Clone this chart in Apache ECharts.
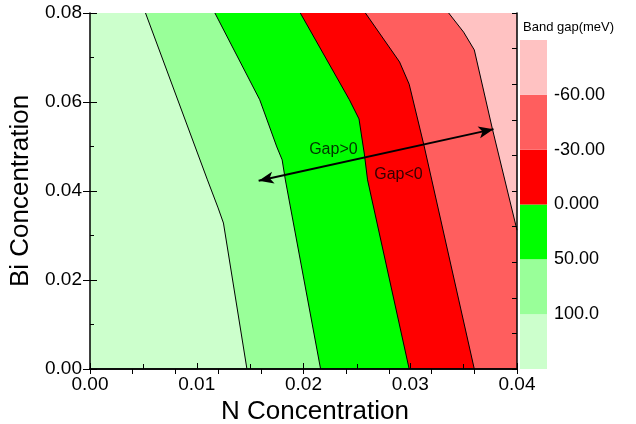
<!DOCTYPE html>
<html>
<head>
<meta charset="utf-8">
<script src="https://cdn.jsdelivr.net/npm/echarts@6/dist/echarts.min.js"></script>
<style>
html, body { margin: 0; padding: 0; background: #fff; }
#chart { width: 636px; height: 424px; }
</style>
</head>
<body>
<div id="chart"></div>
<script>
// contour lines of the band gap, [N, Bi] points from top to bottom
var contour100 = [[0.0052, 0.08], [0.0110, 0.0425], [0.0120, 0.0362], [0.0125, 0.0328], [0.0147, 0]];
var contour50 = [[0.0117, 0.08], [0.0159, 0.0605], [0.0175, 0.0499], [0.0180, 0.0470], [0.0183, 0.0425], [0.0216, 0]];
var contour0 = [[0.0197, 0.08], [0.0243, 0.0605], [0.0252, 0.0562], [0.0257, 0.0483], [0.0260, 0.0425], [0.0299, 0]];
var contourM30 = [[0.0258, 0.08], [0.0290, 0.0690], [0.0299, 0.0640], [0.0313, 0.0501], [0.0360, 0]];
var contourM60 = [[0.0336, 0.08], [0.0350, 0.0757], [0.0360, 0.0717], [0.0377, 0.0539], [0.04, 0.0312]];
var contours = [contour100, contour50, contour0, contourM30, contourM60];

// colour of each band, from the largest gap to the most negative
var bandColors = ['#ccffcc', '#99ff99', '#00ff00', '#ff0000', '#ff5e5e', '#ffc2c2'];
// colour bar labels, sitting on the band edges (bottom to top)
var levelLabels = ['100.0', '50.00', '0.000', '-30.00', '-60.00'];

// axis ranges
var nRange = [0, 0.04];
var biRange = [0, 0.08];

// double arrow and its notes
var arrowFrom = [0.0158, 0.0423];
var arrowTo = [0.0378, 0.0539];
var notes = [[0.0228, 0.0493, 'Gap>0'], [0.0289, 0.0436, 'Gap<0']];

var FONT = 'Liberation Sans, Arial, sans-serif';
var chart = echarts.init(document.getElementById('chart'));

// fill a band: whole box for the first one, else everything right of a contour
function renderBand(params, api) {
    var idx = api.value(0);
    var pts;
    if (idx === 0) {
        pts = [[nRange[0], biRange[0]], [nRange[0], biRange[1]], [nRange[1], biRange[1]], [nRange[1], biRange[0]]];
    } else {
        var c = contours[idx - 1];
        pts = c.concat([[nRange[1], c[c.length - 1][1]], [nRange[1], biRange[1]]]);
    }
    var pix = [];
    for (var i = 0; i < pts.length; i++) {
        pix.push(api.coord(pts[i]));
    }
    return { type: 'polygon', shape: { points: pix }, style: { fill: bandColors[idx] } };
}

var series = [{
    type: 'custom',
    xAxisIndex: 0,
    yAxisIndex: 0,
    renderItem: renderBand,
    data: bandColors.map(function (c, i) { return [i, 0]; }),
    silent: true,
    z: 1
}];

contours.forEach(function (c) {
    series.push({
        type: 'line',
        xAxisIndex: 0,
        yAxisIndex: 0,
        data: c,
        showSymbol: false,
        symbol: 'none',
        lineStyle: { color: '#000', width: 1 },
        silent: true,
        z: 3
    });
});

// arrow
series.push({
    type: 'line',
    xAxisIndex: 0,
    yAxisIndex: 0,
    data: [],
    markLine: {
        silent: true,
        symbol: ['arrow', 'arrow'],
        symbolSize: [9, 15],
        label: { show: false },
        lineStyle: { color: '#000', width: 2, type: 'solid' },
        data: [[{ coord: arrowFrom }, { coord: arrowTo }]],
        animation: false
    },
    z: 4
});

// notes
series.push({
    type: 'scatter',
    xAxisIndex: 0,
    yAxisIndex: 0,
    data: notes,
    symbolSize: 1,
    itemStyle: { color: 'transparent' },
    label: {
        show: true,
        position: 'inside',
        formatter: function (p) { return p.value[2]; },
        color: '#000',
        fontSize: 16,
        fontFamily: FONT
    },
    silent: true,
    z: 5
});

// colour bar as stacked bars
bandColors.forEach(function (c) {
    series.push({
        type: 'bar',
        xAxisIndex: 2,
        yAxisIndex: 3,
        stack: 'bar',
        data: [1],
        barWidth: '100%',
        itemStyle: { color: c },
        silent: true
    });
});

var option = {
    animation: false,
    title: {
        text: 'Band gap(meV)',
        left: 518,
        top: 16,
        textStyle: { fontSize: 13, fontWeight: 'normal', color: '#000', fontFamily: FONT }
    },
    grid: [
        { left: 90, right: 119, top: 13, bottom: 55, outerBoundsMode: 'none' },
        { left: 520, width: 27, top: 40, height: 329, outerBoundsMode: 'none' }
    ],
    xAxis: [
        {
            type: 'value', gridIndex: 0, position: 'bottom', z: 10,
            min: nRange[0], max: nRange[1], interval: 0.01,
            name: 'N Concentration', nameLocation: 'middle', nameGap: 24,
            nameTextStyle: { fontSize: 26, color: '#000', fontFamily: FONT, padding: [0, 0, 0, 23] },
            axisLine: { show: true, lineStyle: { color: '#000', width: 1.5 } },
            axisTick: { show: true, inside: true, length: 6, lineStyle: { color: '#000', width: 1 } },
            minorTick: { show: true, splitNumber: 2, length: 5, lineStyle: { color: '#000', width: 1 } },
            axisLabel: { fontSize: 19, color: '#000', fontFamily: FONT, margin: 6,
                formatter: function (v) { return v.toFixed(2); } },
            splitLine: { show: false }
        },
        {
            type: 'value', gridIndex: 0, position: 'top', z: 10,
            min: 0, max: 10, interval: 1,
            axisLine: { show: true, lineStyle: { color: '#000', width: 1.5 } },
            axisTick: { show: true, inside: true, length: 5, lineStyle: { color: '#000' } },
            axisLabel: { show: false },
            splitLine: { show: false }
        },
        {
            type: 'category', gridIndex: 1, data: ['gap'], show: false
        }
    ],
    yAxis: [
        {
            type: 'value', gridIndex: 0, position: 'left', z: 10,
            min: biRange[0], max: biRange[1], interval: 0.02,
            name: 'Bi Concentration', nameLocation: 'middle', nameGap: 50,
            nameTextStyle: { fontSize: 26, color: '#000', fontFamily: FONT },
            axisLine: { show: true, lineStyle: { color: '#000', width: 1.5 } },
            axisTick: { show: true, inside: true, length: 7, lineStyle: { color: '#000', width: 1 } },
            minorTick: { show: true, splitNumber: 2, length: 4, lineStyle: { color: '#000', width: 1 } },
            axisLabel: { fontSize: 19, color: '#000', fontFamily: FONT, margin: 8,
                formatter: function (v) { return v.toFixed(2); } },
            splitLine: { show: false }
        },
        {
            // outer half of the major ticks
            type: 'value', gridIndex: 0, position: 'left', z: 10,
            min: biRange[0], max: biRange[1], interval: 0.02,
            axisLine: { show: false },
            axisTick: { show: true, inside: false, length: 7, lineStyle: { color: '#000', width: 1 } },
            axisLabel: { show: false },
            splitLine: { show: false }
        },
        {
            type: 'value', gridIndex: 0, position: 'right', z: 10,
            min: 0, max: 10, interval: 1,
            axisLine: { show: true, lineStyle: { color: '#000', width: 1.5 } },
            axisTick: { show: true, inside: true, length: 5, lineStyle: { color: '#000' } },
            axisLabel: { show: false },
            splitLine: { show: false }
        },
        {
            type: 'value', gridIndex: 1, position: 'right',
            min: 0, max: bandColors.length, interval: 1,
            axisLine: { show: false },
            axisTick: { show: false },
            axisLabel: { fontSize: 18, color: '#000', fontFamily: FONT, margin: 7,
                formatter: function (v) { return levelLabels[v - 1] || ''; } },
            splitLine: { show: false }
        }
    ],
    series: series
};
chart.setOption(option);
</script>
</body>
</html>
